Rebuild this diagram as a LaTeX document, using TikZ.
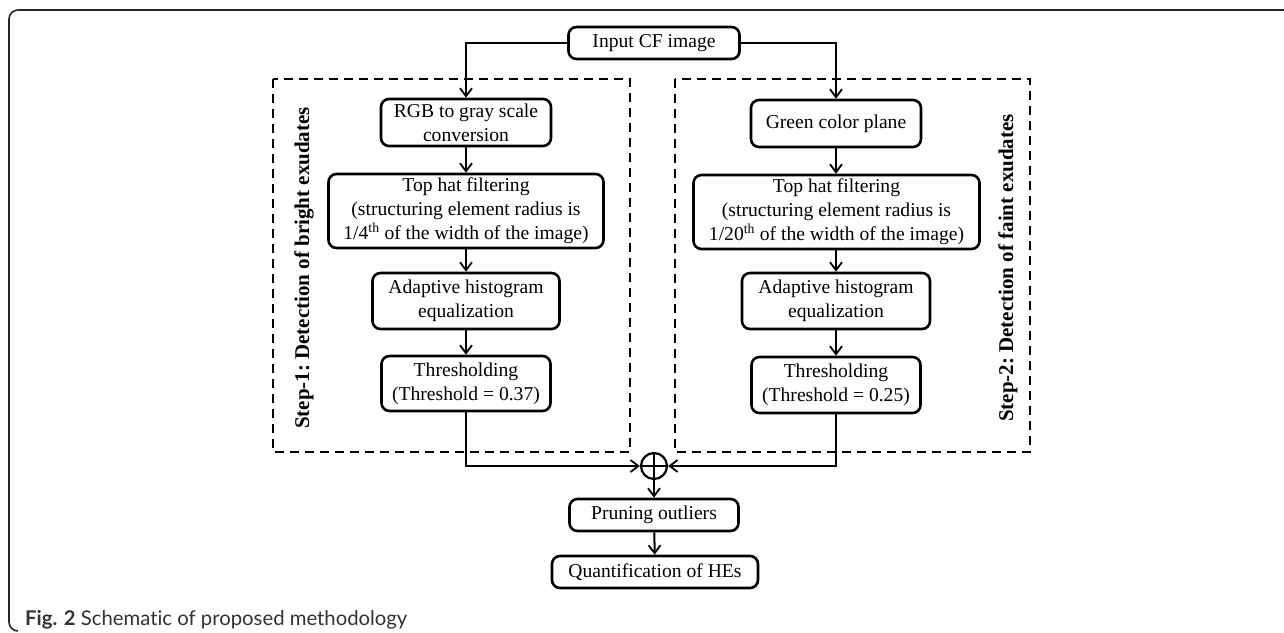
\documentclass[tikz,border=0pt]{standalone}
\usepackage{fontspec}
\setmainfont{Liberation Serif}
\newfontfamily\capfont[Ligatures=NoCommon]{Lato}
\usetikzlibrary{arrows.meta,positioning}
\tikzset{
  proc/.style={draw=black, line width=2.6pt, rounded corners=8pt, align=center,
    inner sep=0pt, font=\fontsize{19.6pt}{24pt}\selectfont, fill=white},
  conn/.style={line width=2pt, -{Straight Barb[length=8pt,width=12pt,line width=1.8pt]}},
  group/.style={draw=black, line width=2.2pt, dash pattern=on 9pt off 6pt},
  steplabel/.style={rotate=90, font=\fontsize{21pt}{24pt}\selectfont\bfseries},
}
\begin{document}
\begin{tikzpicture}[x=1pt,y=-1pt]
\useasboundingbox (0,0) rectangle (1284,632);
% outer frame
\draw[line width=1.6pt, color=black!85, rounded corners=9pt] (1284,10) -- (9,10) -- (9,631) -- (18,631);
% dashed groups
\draw[group] (273,79) rectangle (630,452);
\draw[group] (675,79) rectangle (1030,452);
% nodes
\node[proc, minimum width=171pt, minimum height=32pt] (in) at (654,43) {Input CF image};
\node[proc, minimum width=170pt, minimum height=47pt] (rgb) at (466,122.5) {RGB to gray scale\\conversion};
\node[proc, minimum width=275pt, minimum height=74pt] (thl) at (466,211) {Top hat filtering\\(structuring element radius is\\1/4\textsuperscript{th} of the width of the image)};
\node[proc, minimum width=187pt, minimum height=56pt] (ahl) at (466,301) {Adaptive histogram\\equalization};
\node[proc, minimum width=169pt, minimum height=55pt] (trl) at (466,383.5) {Thresholding\\(Threshold = 0.37)};
\node[proc, minimum width=170pt, minimum height=47pt] (grn) at (836,123.5) {Green color plane};
\node[proc, minimum width=286pt, minimum height=74pt] (thr) at (836.5,212) {Top hat filtering\\(structuring element radius is\\1/20\textsuperscript{th} of the width of the image)};
\node[proc, minimum width=188pt, minimum height=56pt] (ahr) at (836,301) {Adaptive histogram\\equalization};
\node[proc, minimum width=169pt, minimum height=56pt] (trr) at (836,385) {Thresholding\\(Threshold = 0.25)};
\node[draw=black, line width=2.2pt, circle, minimum size=26pt, inner sep=0pt] (sum) at (654,466) {};
\draw[line width=2.2pt] (sum.north) -- (sum.south) (sum.west) -- (sum.east);
\node[proc, minimum width=169pt, minimum height=32pt] (pr) at (654,515) {Pruning outliers};
\node[proc, minimum width=206pt, minimum height=32pt] (qh) at (655,572) {Quantification of HEs};
% step labels
\node[steplabel] (s1) at (304,268) {Step-1:\ Detection of bright exudates};
\node[steplabel] (s2) at (1008,268) {Step-2:\ Detection of faint exudates};
% caption
\node[anchor=base west, inner sep=0pt, font=\capfont\fontsize{20.3pt}{24pt}\selectfont, text=black!80] (cap) at (25,625) {\textbf{Fig. 2} Schematic of proposed methodology};
% connectors
\draw[conn] (in.west) -| (rgb.north);
\draw[conn] (in.east) -| (grn.north);
\draw[conn] (rgb) -- (thl);
\draw[conn] (thl) -- (ahl);
\draw[conn] (ahl) -- (trl);
\draw[conn] (grn) -- (thr.north -| grn);
\draw[conn] (thr.south -| grn) -- (ahr);
\draw[conn] (ahr) -- (trr);
\draw[conn] (trl.south) |- (sum.west);
\draw[conn] (trr.south) |- (sum.east);
\draw[conn] (sum) -- (pr);
\draw[conn] (pr) -- (qh);
\end{tikzpicture}
\end{document}
